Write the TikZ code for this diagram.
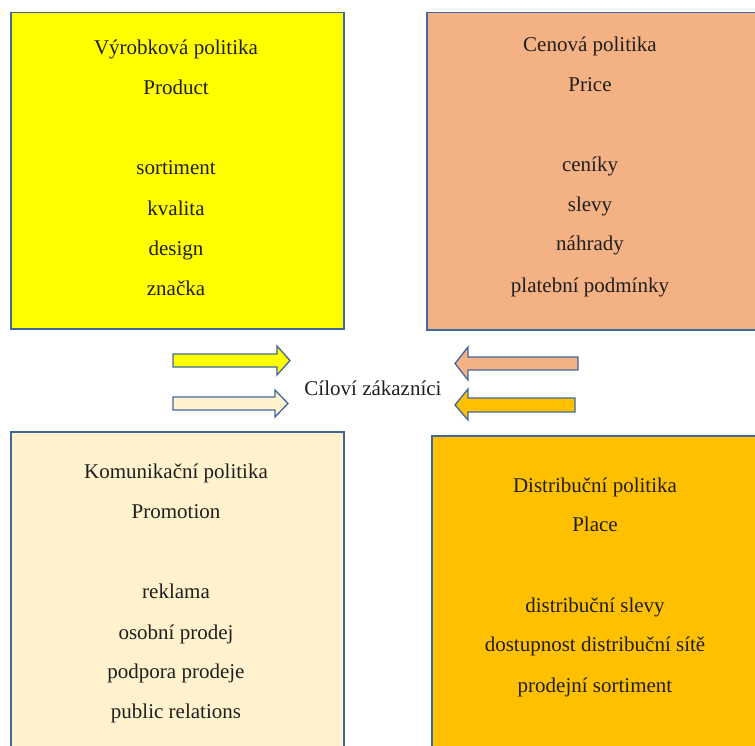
\documentclass[tikz,border=0pt]{standalone}
\usepackage{fontspec}
\setmainfont{Liberation Serif}
\begin{document}
\begin{tikzpicture}[x=1pt,y=-1pt,
  panel/.style={draw=edgeblue, line width=1.5pt},
  lbl/.style={anchor=base, inner sep=0pt, font=\fontsize{21}{25}\selectfont, text=black!88},
  blockarrow/.style={draw=edgeblue, line width=1.3pt, line join=miter}]
\definecolor{edgeblue}{HTML}{41679E}
\definecolor{prodfill}{HTML}{FFFF00}
\definecolor{pricefill}{HTML}{F4B183}
\definecolor{promofill}{HTML}{FFF2CC}
\definecolor{placefill}{HTML}{FFC000}
\useasboundingbox (0,0) rectangle (755,746);
\clip (0,0) rectangle (755,746);

% the four panels
\node[panel, fill=prodfill, anchor=north west, minimum width=333, minimum height=316, inner sep=0pt] (prod) at (10,12) {};
\node[panel, fill=pricefill, anchor=north west, minimum width=345, minimum height=317, inner sep=0pt] (price) at (426,12) {};
\node[panel, fill=promofill, anchor=north west, minimum width=333, minimum height=330, inner sep=0pt] (promo) at (10,431) {};
\node[panel, fill=placefill, anchor=north west, minimum width=345, minimum height=330, inner sep=0pt] (place) at (431,435) {};

% product texts
\node[lbl] (p1) at (176,55) {Výrobková politika};
\node[lbl] (p2) at (176,95) {Product};
\node[lbl] (p3) at (176,175) {sortiment};
\node[lbl] (p4) at (176,215) {kvalita};
\node[lbl] (p5) at (176,255) {design};
\node[lbl] (p6) at (176,295) {značka};

% price texts
\node[lbl] (c1) at (590,52) {Cenová politika};
\node[lbl] (c2) at (590,92) {Price};
\node[lbl] (c3) at (590,172) {ceníky};
\node[lbl] (c4) at (590,212) {slevy};
\node[lbl] (c5) at (590,251) {náhrady};
\node[lbl] (c6) at (590,292) {platební podmínky};

% promotion texts
\node[lbl] (k1) at (176,478) {Komunikační politika};
\node[lbl] (k2) at (176,518) {Promotion};
\node[lbl] (k3) at (176,598) {reklama};
\node[lbl] (k4) at (176,639) {osobní prodej};
\node[lbl] (k5) at (176,678) {podpora prodeje};
\node[lbl] (k6) at (176,718) {public relations};

% place texts
\node[lbl] (d1) at (595,492) {Distribuční politika};
\node[lbl] (d2) at (595,531) {Place};
\node[lbl] (d3) at (595,612) {distribuční slevy};
\node[lbl] (d4) at (595,651) {dostupnost distribuční sítě};
\node[lbl] (d5) at (595,692) {prodejní sortiment};

% centre label
\node[lbl] (target) at (373,395) {Cíloví zákazníci};

% block arrows towards the centre
\draw[blockarrow, fill=prodfill] (173,354) -- (277,354) -- (277,346) -- (290,360.5) -- (277,375) -- (277,367) -- (173,367) -- cycle;
\draw[blockarrow, fill=promofill] (173,397) -- (275,397) -- (275,390) -- (288,403.5) -- (275,417) -- (275,410) -- (173,410) -- cycle;
\draw[blockarrow, fill=pricefill] (578,357) -- (468,357) -- (468,347) -- (455,363.5) -- (468,380) -- (468,370) -- (578,370) -- cycle;
\draw[blockarrow, fill=placefill] (575,398) -- (468,398) -- (468,389) -- (455,405) -- (468,420) -- (468,412) -- (575,412) -- cycle;
\end{tikzpicture}
\end{document}
